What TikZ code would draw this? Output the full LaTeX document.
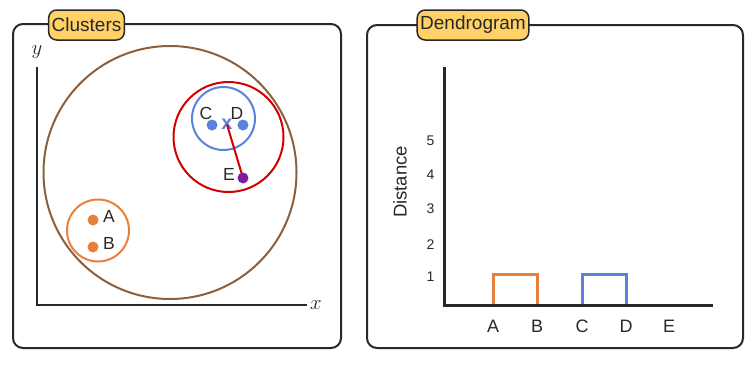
\documentclass[tikz,border=0pt]{standalone}
\usepackage{fontspec}
\setsansfont{Liberation Sans}
\usepackage{tikz}
\definecolor{ink}{RGB}{40,40,40}
\definecolor{tagfill}{RGB}{255,209,102}
\definecolor{brownc}{RGB}{139,96,62}
\definecolor{redc}{RGB}{212,0,0}
\definecolor{bluec}{RGB}{90,130,218}
\definecolor{orangec}{RGB}{232,128,60}
\definecolor{purplec}{RGB}{125,30,160}
\tikzset{
	panel/.style={draw=ink, line width=2pt, rounded corners=10pt},
	tag/.style={draw=ink, fill=tagfill, line width=1.5pt, rounded corners=8pt, text=ink,
		font=\sffamily\fontsize{19}{19}\selectfont, minimum height=30pt, inner xsep=3pt},
	dot/.style={circle, fill=#1, minimum size=11pt, inner sep=0pt},
	lbl/.style={font=\sffamily\fontsize{17.5}{17.5}\selectfont, text=ink, inner sep=0pt},
	tick/.style={font=\sffamily\fontsize{14}{14}\selectfont, text=ink, inner sep=0pt},
	axis/.style={draw=ink, line width=2.2pt},
	bracket/.style={line width=3pt}
}

\begin{document}
\begin{tikzpicture}[x=1pt, y=-1pt]
				\useasboundingbox (0,0) rectangle (754,364);
				\draw[panel] (13,24) rectangle (341,348);
				\draw[panel] (367,25) rectangle (743,348);
				\node[tag] (tagL) at (86.5,25) {Clusters};
				\node[tag] (tagR) at (473,25) {Dendrogram};
				% scatter
				\coordinate (ytop) at (37,67);
				\coordinate (orig) at (37,305);
				\coordinate (xend) at (307,305);
				\draw[axis] (ytop) -- (orig) -- (xend);
				\node[text=ink, font=\fontsize{21}{21}\selectfont] (ylab) at (37,52) {$y$};
				\node[text=ink, font=\fontsize{21}{21}\selectfont] (xlab) at (316,305) {$x$};
				\draw[brownc, line width=2pt] (170,172.5) circle[radius=126.5pt];
				\draw[redc, line width=2pt] (228.5,137) circle[radius=55pt];
				\draw[bluec, line width=2pt] (223.5,118.5) circle[radius=31.5pt];
				\draw[orangec, line width=2pt] (98,230.5) circle[radius=31pt];
				\node[dot=orangec] (A) at (93,220) {};
				\node[dot=orangec] (B) at (93,247) {};
				\node[dot=bluec] (C) at (212,125) {};
				\node[dot=bluec] (D) at (243,125) {};
				\node[text=bluec, font=\sffamily\bfseries\fontsize{20}{20}\selectfont, inner sep=0pt] (ctr) at (227,124.5) {x};
				\draw[redc, line width=2pt] (ctr.center) -- (243,178);
				\node[dot=purplec] (E) at (243,178) {};
				\node[lbl] (labA) at (109,216) {A};
				\node[lbl] (labB) at (109,243) {B};
				\node[lbl] (labC) at (206,113) {C};
				\node[lbl] (labD) at (237,113) {D};
				\node[lbl] (labE) at (229,174) {E};
				% dendrogram
				\coordinate (dtop) at (444,67);
				\coordinate (dorig) at (444,305);
				\coordinate (dend) at (713,305);
				\draw[axis, line width=3pt] (dtop) -- (dorig) -- (dend);
				\foreach \v/\yy in {1/277,2/245,3/209,4/175,5/141}
					\node[tick] (t\v) at (430.5,\yy) {\v};
				\node[lbl, rotate=90, font=\sffamily\fontsize{18.5}{18.5}\selectfont] (dist) at (400,182) {Distance};
				\foreach \n/\xx in {A/493,B/537,C/582,D/626,E/669} {
					\coordinate (leaf\n) at (\xx,304);
					\node[lbl, font=\sffamily\fontsize{18}{18}\selectfont] (name\n) at (\xx,326) {\n};
				}
				\coordinate (mAB) at (515,274);
				\coordinate (mCD) at (604,274);
				\draw[bracket, orangec] (leafA) |- (mAB) -| (leafB);
				\draw[bracket, bluec] (leafC) |- (mCD) -| (leafD);
			\end{tikzpicture}
\end{document}
